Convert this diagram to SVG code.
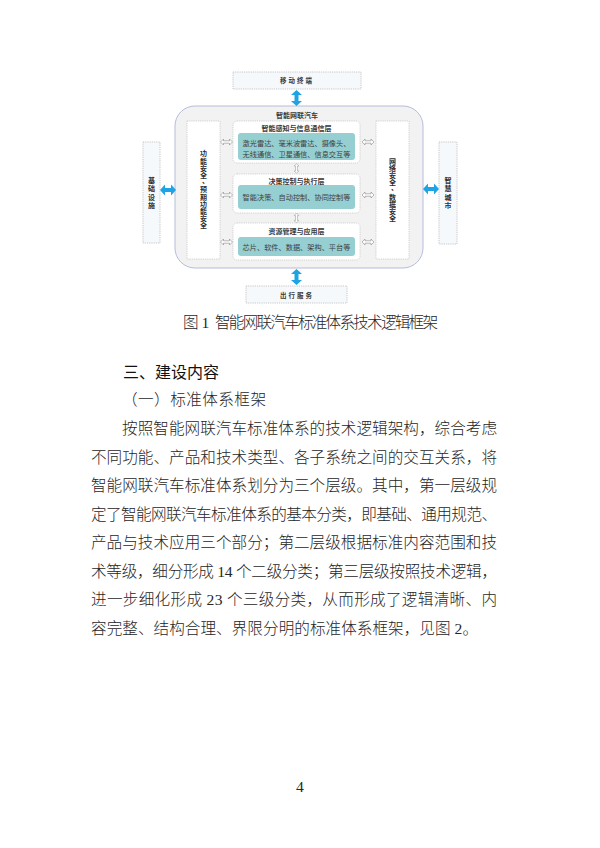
<svg xmlns="http://www.w3.org/2000/svg" xmlns:xlink="http://www.w3.org/1999/xlink" width="600" height="848" viewBox="0 0 600 848">
<style>
.d{font-family:"Noto Sans CJK SC","Liberation Sans",sans-serif;fill:#3a3a3a;font-weight:bold;text-anchor:middle}
.t{font-size:7px}
.v{font-size:7px;fill:#2e2e2e}
.s{font-size:7.2px;font-weight:normal;fill:#404040}
.ob{fill:#f6f9fb;stroke:#b0b0b0;stroke-width:0.7;stroke-dasharray:1.2 1}
.pn{fill:#ffffff;stroke:#c0c0c0;stroke-width:0.7;stroke-dasharray:1.2 1}
.tl{fill:#95cfd2}
.body{font-family:"Liberation Serif","Noto Sans CJK SC",serif;font-size:15.6px;fill:#262626;font-weight:300}
.hd{font-family:"Noto Sans CJK SC",sans-serif;font-size:16px;fill:#111}
.ba{fill:#1ea3e4}
.ha{fill:#ffffff;stroke:#8a8a8a;stroke-width:0.6}
</style>
<defs>
<path id="bv" d="M0,-8 L5.5,-3 L2,-3 L2,3 L5.5,3 L0,8 L-5.5,3 L-2,3 L-2,-3 L-5.5,-3 Z"/>
<path id="hh" d="M-6,0 L-3,-3 L-3,-1.2 L3,-1.2 L3,-3 L6,0 L3,3 L3,1.2 L-3,1.2 L-3,3 Z"/>
</defs>
<rect width="600" height="848" fill="#ffffff"/>

<g id="vehicle">
<rect x="175" y="106" width="248" height="162" rx="20" fill="#f2f2f2" stroke="#b6bcdc" stroke-width="1"/>
<text class="d t" x="297" y="117.5" font-size="7.5">智能网联汽车</text>
</g>

<g id="mobile-terminal">
<rect class="ob" x="233" y="72" width="128" height="17"/>
<text class="d" x="297" y="83" font-size="6.5" letter-spacing="2">移动终端</text>
</g>

<g id="travel-service">
<rect class="ob" x="246" y="286" width="101" height="17"/>
<text class="d" x="297" y="297.5" font-size="6.5" letter-spacing="2">出行服务</text>
</g>

<g id="infrastructure">
<rect class="ob" x="143" y="142" width="17" height="101"/>
<text class="d v"><tspan x="151.5" y="182.5">基</tspan><tspan x="151.5" y="191">础</tspan><tspan x="151.5" y="199.5">设</tspan><tspan x="151.5" y="208">施</tspan></text>
</g>

<g id="smart-city">
<rect class="ob" x="439" y="142" width="18" height="102"/>
<text class="d v"><tspan x="448" y="182.5">智</tspan><tspan x="448" y="191">慧</tspan><tspan x="448" y="199.5">城</tspan><tspan x="448" y="208">市</tspan></text>
</g>

<g id="functional-safety">
<rect class="pn" x="187" y="121" width="33" height="138"/>
<text class="d v"><tspan x="203.5" y="156.3">功</tspan><tspan x="203.5" y="163.5">能</tspan><tspan x="203.5" y="170.7">安</tspan><tspan x="203.5" y="177.9">全</tspan><tspan x="205.5" y="183">、</tspan><tspan x="203.5" y="192.3">预</tspan><tspan x="203.5" y="199.5">期</tspan><tspan x="203.5" y="206.7">功</tspan><tspan x="203.5" y="213.9">能</tspan><tspan x="203.5" y="221.1">安</tspan><tspan x="203.5" y="228.3">全</tspan></text>
</g>

<g id="cyber-security">
<rect class="pn" x="376" y="121" width="33" height="138"/>
<text class="d v"><tspan x="392.5" y="163.5">网</tspan><tspan x="392.5" y="170.7">络</tspan><tspan x="392.5" y="177.9">安</tspan><tspan x="392.5" y="185.1">全</tspan><tspan x="394.5" y="190.2">、</tspan><tspan x="392.5" y="199.5">数</tspan><tspan x="392.5" y="206.7">据</tspan><tspan x="392.5" y="213.9">安</tspan><tspan x="392.5" y="221.1">全</tspan></text>
</g>

<g id="perception-layer">
<rect class="pn" x="233" y="121" width="127" height="42" rx="4"/>
<text class="d t" x="296.5" y="130.5">智能感知与信息通信层</text>
<rect class="tl" x="238" y="133" width="117" height="27" rx="3"/>
<text class="d s" x="296.5" y="145.5">激光雷达、毫米波雷达、摄像头、</text>
<text class="d s" x="296.5" y="156.5">无线通信、卫星通信、信息交互等</text>
</g>

<g id="decision-layer">
<rect class="pn" x="233" y="174" width="127" height="39" rx="4"/>
<text class="d t" x="296.5" y="183.5">决策控制与执行层</text>
<rect class="tl" x="238" y="185" width="117" height="24" rx="3"/>
<text class="d s" x="296.5" y="199.5">智能决策、自动控制、协同控制等</text>
</g>

<g id="resource-layer">
<rect class="pn" x="233" y="223" width="127" height="37" rx="4"/>
<text class="d t" x="296.5" y="233.5">资源管理与应用层</text>
<rect class="tl" x="238" y="237" width="117" height="19" rx="3"/>
<text class="d s" x="296.5" y="249.5">芯片、软件、数据、架构、平台等</text>
</g>

<g id="connectors">
<use xlink:href="#bv" href="#bv" class="ba" transform="translate(296.5,98)"/>
<use xlink:href="#bv" href="#bv" class="ba" transform="translate(296.5,277)"/>
<use xlink:href="#bv" href="#bv" class="ba" transform="translate(168,190) rotate(90)"/>
<use xlink:href="#bv" href="#bv" class="ba" transform="translate(431,189) rotate(90)"/>
<use xlink:href="#hh" href="#hh" class="ha" transform="translate(226.5,142)"/>
<use xlink:href="#hh" href="#hh" class="ha" transform="translate(226.5,195)"/>
<use xlink:href="#hh" href="#hh" class="ha" transform="translate(226.5,242)"/>
<use xlink:href="#hh" href="#hh" class="ha" transform="translate(368,142)"/>
<use xlink:href="#hh" href="#hh" class="ha" transform="translate(368,195)"/>
<use xlink:href="#hh" href="#hh" class="ha" transform="translate(368,242)"/>
<use xlink:href="#hh" href="#hh" class="ha" transform="translate(296.5,168.5) rotate(90) scale(0.8)"/>
<use xlink:href="#hh" href="#hh" class="ha" transform="translate(296.5,218) rotate(90) scale(0.8)"/>
</g>

<text class="body" y="327.5" font-size="13"><tspan x="183">图</tspan><tspan x="201.5">1</tspan><tspan x="215" textLength="223" lengthAdjust="spacing">智能网联汽车标准体系技术逻辑框架</tspan></text>

<text class="hd" x="123" y="378">三、建设内容</text>
<text class="body" x="122" y="404.5" font-size="16" textLength="144" lengthAdjust="spacing">（一）标准体系框架</text>

<text class="body" x="122" y="434" textLength="375" lengthAdjust="spacing">按照智能网联汽车标准体系的技术逻辑架构，综合考虑</text>
<text class="body" x="91" y="462.5" textLength="406" lengthAdjust="spacing">不同功能、产品和技术类型、各子系统之间的交互关系，将</text>
<text class="body" x="91" y="491" textLength="406" lengthAdjust="spacing">智能网联汽车标准体系划分为三个层级。其中，第一层级规</text>
<text class="body" x="91" y="519.5" textLength="406" lengthAdjust="spacing">定了智能网联汽车标准体系的基本分类，即基础、通用规范、</text>
<text class="body" x="91" y="548" textLength="406" lengthAdjust="spacing">产品与技术应用三个部分；第二层级根据标准内容范围和技</text>
<text class="body" x="91" y="576.5" textLength="406" lengthAdjust="spacing">术等级，细分形成 14 个二级分类；第三层级按照技术逻辑，</text>
<text class="body" x="91" y="605" textLength="406" lengthAdjust="spacing">进一步细化形成 23 个三级分类，从而形成了逻辑清晰、内</text>
<text class="body" x="91" y="633.5" textLength="387" lengthAdjust="spacing">容完整、结构合理、界限分明的标准体系框架，见图 2。</text>

<text class="body" x="300" y="792" font-size="10" text-anchor="middle">4</text>
</svg>
